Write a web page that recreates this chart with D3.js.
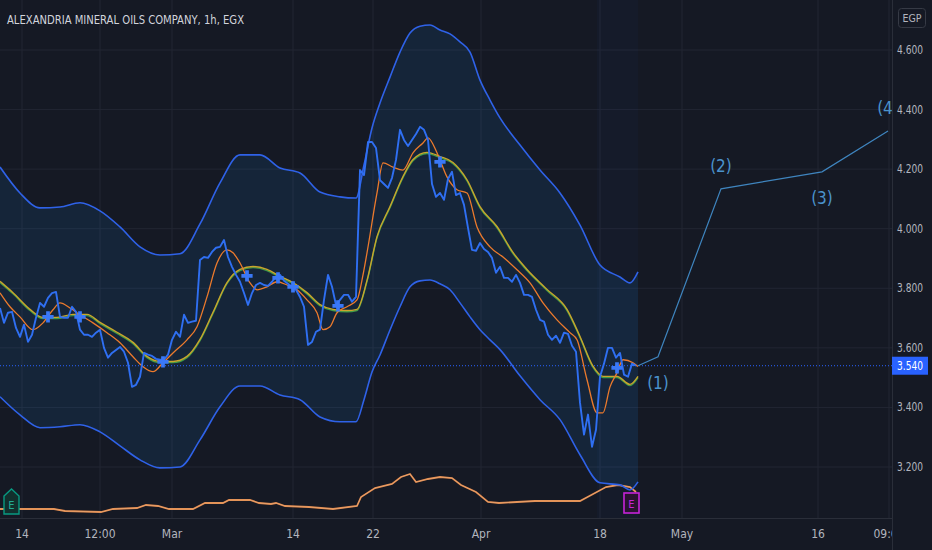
<!DOCTYPE html>
<html>
<head>
<meta charset="utf-8">
<script src="https://cdn.jsdelivr.net/npm/d3@7"></script>
<style>
  html, body { margin: 0; padding: 0; background: #151924; overflow: hidden; }
  svg { display: block; }
</style>
</head>
<body>
<svg id="chart"></svg>
<script>
const width = 932, height = 550;
const plotW = 892, plotH = 518;

// ---- data (bar index = one hourly bar) ----
const title = "ALEXANDRIA MINERAL OILS COMPANY, 1h, EGX";
const priceTicks = [3.2, 3.4, 3.6, 3.8, 4.0, 4.2, 4.4, 4.6];
const timeTickBars = [5.5, 25, 43, 73.25, 93.25, 120.25, 150, 170.5, 204.5, 222.25];
const timeTickLabels = ["14", "12:00", "Mar", "14", "22", "Apr", "18", "May", "16", "09:00"];
const lastPrice = 3.540;

// close prices, bars 0..159
const closes = [
  3.734,3.684,3.718,3.721,3.667,3.637,3.678,3.620,3.644,3.701,
  3.751,3.738,3.768,3.784,3.788,3.704,3.701,3.701,3.738,3.721,
  3.661,3.644,3.644,3.637,3.651,3.661,3.600,3.567,3.583,3.593,
  3.603,3.587,3.550,3.469,3.476,3.503,3.583,3.577,3.573,3.563,
  3.560,3.560,3.577,3.627,3.654,3.637,3.711,3.684,3.688,3.691,
  3.895,3.905,3.902,3.922,3.936,3.939,3.962,3.905,3.872,3.845,
  3.822,3.784,3.744,3.784,3.811,3.818,3.811,3.808,3.822,3.839,
  3.845,3.825,3.815,3.805,3.795,3.771,3.738,3.610,3.620,3.654,
  3.661,3.761,3.845,3.805,3.744,3.761,3.778,3.778,3.755,3.771,
  4.197,4.180,4.291,4.291,4.271,4.163,4.150,4.137,4.171,4.231,
  4.332,4.298,4.278,4.298,4.318,4.342,4.332,4.298,4.150,4.107,
  4.120,4.097,4.167,4.191,4.113,4.120,4.080,4.003,3.929,3.926,
  3.952,3.932,3.922,3.902,3.852,3.872,3.835,3.835,3.822,3.845,
  3.818,3.778,3.778,3.771,3.728,3.694,3.688,3.644,3.627,3.641,
  3.617,3.651,3.647,3.607,3.587,3.416,3.309,3.376,3.268,3.325,
  3.503,3.547,3.600,3.600,3.567,3.583,3.510,3.503,3.547,3.540
];

// envelope bands
const bandBars = [0,5,10,15,20,25,30,35,40,45,50,55,60,65,70,75,80,85,89,91,93,95,97.5,100,102.5,105,107.5,110,112.5,115,117.5,120,122.5,125,130,135,140,145,150,155,157.5,159.5];
const upperBand = [4.207,4.120,4.070,4.073,4.087,4.060,4.006,3.939,3.912,3.916,4.016,4.154,4.248,4.248,4.204,4.187,4.123,4.107,4.103,4.214,4.338,4.422,4.509,4.593,4.657,4.680,4.684,4.667,4.654,4.627,4.593,4.499,4.432,4.372,4.281,4.197,4.120,4.012,3.878,3.838,3.818,3.855];
const lowerBand = [3.436,3.375,3.332,3.335,3.342,3.318,3.271,3.224,3.197,3.200,3.291,3.402,3.472,3.472,3.442,3.426,3.368,3.352,3.352,3.426,3.519,3.576,3.660,3.738,3.805,3.825,3.828,3.815,3.795,3.751,3.704,3.661,3.627,3.594,3.506,3.426,3.359,3.241,3.147,3.140,3.123,3.150];

// fast moving average
const fastBars = [0,2.5,5,8.25,10.75,13.25,15,17.5,20,23.25,26.75,30,33.25,35.75,38.25,40.75,43.25,46.75,49.25,51.75,54.25,56.75,58.25,60,62.5,64.25,66.75,69.25,71.75,74.25,76.75,79.25,80.75,82.5,84.25,86.75,89.25,90.75,91.75,94.25,95.75,98.25,100.75,103.25,105.75,107,109.25,111.75,114.25,116.75,119.25,122.5,125.75,129.25,132.5,135.75,139.25,142.5,144.25,146.75,149.25,150.75,152.5,154.25,155.75,158.25,159.5];
const fastMA = [3.785,3.738,3.704,3.661,3.684,3.728,3.751,3.734,3.711,3.684,3.651,3.617,3.570,3.537,3.520,3.550,3.583,3.627,3.671,3.771,3.885,3.929,3.919,3.885,3.818,3.795,3.805,3.822,3.811,3.795,3.761,3.718,3.661,3.671,3.718,3.738,3.761,3.845,3.919,4.120,4.221,4.207,4.197,4.255,4.288,4.305,4.255,4.174,4.131,4.120,4.006,3.939,3.905,3.862,3.818,3.751,3.694,3.651,3.627,3.493,3.382,3.382,3.469,3.516,3.560,3.550,3.537];

// slow moving average
const slowBars = [0,3.25,7.5,10.75,14.25,18.25,21.75,25,29.25,33.25,36.75,40,43.25,46.75,50,53.25,56.75,60,63.25,66.75,70,73.25,76.75,80,83.25,86.75,89.25,91.75,94.25,97.5,100.75,103.25,106.75,110,113.25,116.75,120,124.25,128.25,131.75,136.75,141.75,145,148.25,150.75,154.25,157.5,159.5];
const slowMA = [3.822,3.784,3.728,3.701,3.701,3.711,3.711,3.684,3.651,3.617,3.570,3.553,3.553,3.570,3.627,3.718,3.818,3.862,3.872,3.862,3.839,3.818,3.784,3.744,3.728,3.724,3.728,3.825,3.972,4.073,4.174,4.231,4.255,4.241,4.221,4.163,4.073,4.006,3.919,3.862,3.795,3.728,3.637,3.537,3.503,3.503,3.476,3.503];

// signal crosses
const crossBars = [12, 20, 40.75, 61.75, 69.5, 73.25, 84.5, 110, 154.25];
const crossVals = [3.704, 3.704, 3.553, 3.842, 3.835, 3.805, 3.741, 4.224, 3.533];

// lower oscillator (own scale)
const oscBars = [0,13.5,16.25,25.25,28.25,34.25,36.5,39.5,42.25,48.25,51.25,55.75,57.25,62.5,64.75,67.75,69,71.25,77.25,83.25,89.25,90.25,93.75,98,100.25,102.5,104,107,110,113,115.25,119,122,124.75,129.25,133.75,139.75,145,148.75,151.5,154.5,157.5,159];
const oscVals = [9,9,7,6,9,10,13,12,9,9,15,15,18,18,15,14,15,12,11,9,12,21,30,34,41,44,36,39,41,40,33,26,16,15,16,17,17,17,25,31,33,31,26];

// wave projection
const waveBars = [159.5, 164.5, 180.25, 205.5, 222];
const waveVals = [3.540, 3.570, 4.134, 4.191, 4.328];
const waveLabels = ["", "(1)", "(2)", "(3)", "(4)"];

// ---- scales ----
const x = d3.scaleLinear().domain([0, 223]).range([0, plotW]);
const y = d3.scaleLinear().domain([3.2, 4.6]).range([467, 50]);
const yOsc = d3.scaleLinear().domain([0, 50]).range([518, 468]);

const font = "'Liberation Sans Narrow', 'DejaVu Sans Condensed', 'Liberation Sans', sans-serif";
const svg = d3.select("#chart").attr("width", width).attr("height", height)
  .style("font-family", font);

svg.append("rect").attr("width", width).attr("height", height).attr("fill", "#151924");

const defs = svg.append("defs");
defs.append("clipPath").attr("id", "plot")
  .append("rect").attr("width", plotW).attr("height", plotH);
defs.append("clipPath").attr("id", "plot2")
  .append("rect").attr("width", plotW).attr("height", height);

const g = svg.append("g").attr("clip-path", "url(#plot)");

// grid
g.append("g").selectAll("line").data(priceTicks).join("line")
  .attr("x1", 0).attr("x2", plotW)
  .attr("y1", d => y(d)).attr("y2", d => y(d))
  .attr("stroke", "#222633").attr("stroke-width", 1);
g.append("g").selectAll("line").data(timeTickBars).join("line")
  .attr("x1", d => x(d)).attr("x2", d => x(d))
  .attr("y1", 0).attr("y2", plotH)
  .attr("stroke", "#222633").attr("stroke-width", 1);

// faint highlight of the latest bars
g.append("rect")
  .attr("x", x(149.25)).attr("width", x(159.5) - x(149.25))
  .attr("y", 0).attr("height", plotH)
  .attr("fill", "#2962ff").attr("opacity", 0.03);

// band fill
const bandData = bandBars.map((b, i) => ({ b, u: upperBand[i], l: lowerBand[i] }));
g.append("path").datum(bandData)
  .attr("d", d3.area().x(d => x(d.b)).y0(d => y(d.l)).y1(d => y(d.u)).curve(d3.curveMonotoneX))
  .attr("fill", "#2196f3").attr("opacity", 0.1);

// oscillator line at bottom
const oscData = oscBars.map((b, i) => ({ b, v: oscVals[i] }));
g.append("path").datum(oscData)
  .attr("d", d3.line().x(d => x(d.b)).y(d => yOsc(d.v)))
  .attr("fill", "none").attr("stroke", "#e0874a").attr("stroke-width", 1.8);
g.append("path").datum(oscData)
  .attr("d", d3.line().x(d => x(d.b)).y(d => yOsc(d.v)))
  .attr("fill", "none").attr("stroke", "#f5c9a0").attr("stroke-width", 0.6).attr("opacity", 0.6);

// band lines
const bandLine = key => d3.line().x(d => x(d.b)).y(d => y(d[key])).curve(d3.curveMonotoneX);
g.append("path").datum(bandData).attr("d", bandLine("u"))
  .attr("fill", "none").attr("stroke", "#2f62e8").attr("stroke-width", 1.6);
g.append("path").datum(bandData).attr("d", bandLine("l"))
  .attr("fill", "none").attr("stroke", "#2f62e8").attr("stroke-width", 1.6);

// last price dotted line
g.append("line")
  .attr("x1", 0).attr("x2", plotW).attr("y1", y(lastPrice)).attr("y2", y(lastPrice))
  .attr("stroke", "#2962ff").attr("stroke-width", 1).attr("stroke-dasharray", "1,2");

// slow MA (green just under amber)
const slowData = slowBars.map((b, i) => ({ b, v: slowMA[i] }));
const slowLine = d3.line().x(d => x(d.b)).y(d => y(d.v)).curve(d3.curveMonotoneX);
g.append("path").datum(slowData).attr("d", slowLine).attr("transform", "translate(0,0.8)")
  .attr("fill", "none").attr("stroke", "#3f9a48").attr("stroke-width", 1.4);
g.append("path").datum(slowData).attr("d", slowLine).attr("transform", "translate(0,-0.4)")
  .attr("fill", "none").attr("stroke", "#c9a52c").attr("stroke-width", 1.4);

// fast MA
const fastData = fastBars.map((b, i) => ({ b, v: fastMA[i] }));
g.append("path").datum(fastData)
  .attr("d", d3.line().x(d => x(d.b)).y(d => y(d.v)).curve(d3.curveMonotoneX))
  .attr("fill", "none").attr("stroke", "#ec7a2c").attr("stroke-width", 1.3);

// price
g.append("path").datum(closes)
  .attr("d", d3.line().x((d, i) => x(i)).y(d => y(d)))
  .attr("fill", "none").attr("stroke", "#2f6ff2").attr("stroke-width", 1.9)
  .attr("stroke-linejoin", "round");

// crosses
g.append("g").selectAll("path").data(crossBars).join("path")
  .attr("transform", (d, i) => `translate(${x(d)},${y(crossVals[i])})`)
  .attr("d", d3.symbol().type(d3.symbolCross).size(70))
  .attr("fill", "#3a78f7");

// wave projection
const waveData = waveBars.map((b, i) => ({ b, v: waveVals[i], t: waveLabels[i] }));
g.append("path").datum(waveData)
  .attr("d", d3.line().x(d => x(d.b)).y(d => y(d.v)))
  .attr("fill", "none").attr("stroke", "#3f85bf").attr("stroke-width", 1.2);
g.append("g").selectAll("text").data(waveData.filter(d => d.t)).join("text")
  .attr("x", d => x(d.b))
  .attr("y", (d, i) => y(d.v) + (i % 2 === 0 ? 32 : -17))
  .attr("text-anchor", "middle")
  .attr("fill", "#4b93cc").attr("font-size", 17)
  .text(d => d.t);

// event badges
const badge = g.append("g");
badge.append("path")
  .attr("d", "M4,496 L11.5,489 L19,496 L19,514 L4,514 Z")
  .attr("fill", "#12302d").attr("stroke", "#089981").attr("stroke-width", 1.4);
badge.append("text").attr("x", 11.5).attr("y", 509).attr("text-anchor", "middle")
  .attr("fill", "#22ab94").attr("font-size", 11).text("E");
badge.append("rect").attr("x", 624).attr("y", 493).attr("width", 15).attr("height", 20)
  .attr("fill", "#2a1330").attr("stroke", "#c624d9").attr("stroke-width", 1.6);
badge.append("text").attr("x", 631.5).attr("y", 508).attr("text-anchor", "middle")
  .attr("fill", "#c624d9").attr("font-size", 11).text("E");

// axis frame
svg.append("line").attr("x1", plotW + 0.5).attr("x2", plotW + 0.5).attr("y1", 0).attr("y2", height)
  .attr("stroke", "#2a2e39");
svg.append("line").attr("x1", 0).attr("x2", plotW).attr("y1", plotH + 0.5).attr("y2", plotH + 0.5)
  .attr("stroke", "#2a2e39");

// right axis labels
svg.append("g").selectAll("text").data(priceTicks).join("text")
  .attr("x", 897).attr("y", d => y(d) + 4)
  .attr("fill", "#b2b5be").attr("font-size", 12)
  .attr("textLength", 26).attr("lengthAdjust", "spacingAndGlyphs")
  .text(d => d3.format(".3f")(d));

// last price tag
svg.append("rect").attr("x", 892).attr("y", y(lastPrice) - 9).attr("width", 36).attr("height", 18)
  .attr("fill", "#2962ff");
svg.append("text").attr("x", 897).attr("y", y(lastPrice) + 4)
  .attr("fill", "#ffffff").attr("font-size", 12)
  .attr("textLength", 26).attr("lengthAdjust", "spacingAndGlyphs")
  .text(d3.format(".3f")(lastPrice));

// currency box
svg.append("rect").attr("x", 898.5).attr("y", 8.5).attr("width", 27).attr("height", 19).attr("rx", 3)
  .attr("fill", "#151924").attr("stroke", "#363a45");
svg.append("text").attr("x", 912).attr("y", 22).attr("text-anchor", "middle")
  .attr("fill", "#b2b5be").attr("font-size", 11)
  .attr("textLength", 19).attr("lengthAdjust", "spacingAndGlyphs").text("EGP");

// time axis labels
const tg = svg.append("g").attr("clip-path", "url(#plot2)");
tg.selectAll("text").data(timeTickBars).join("text")
  .attr("x", d => x(d)).attr("y", 538)
  .attr("text-anchor", "middle")
  .attr("fill", "#b2b5be").attr("font-size", 12)
  .text((d, i) => timeTickLabels[i]);

// title
svg.append("text").attr("x", 7).attr("y", 24)
  .attr("fill", "#d1d4dc").attr("font-size", 13)
  .attr("textLength", 237).attr("lengthAdjust", "spacingAndGlyphs")
  .text(title);
</script>
</body>
</html>
